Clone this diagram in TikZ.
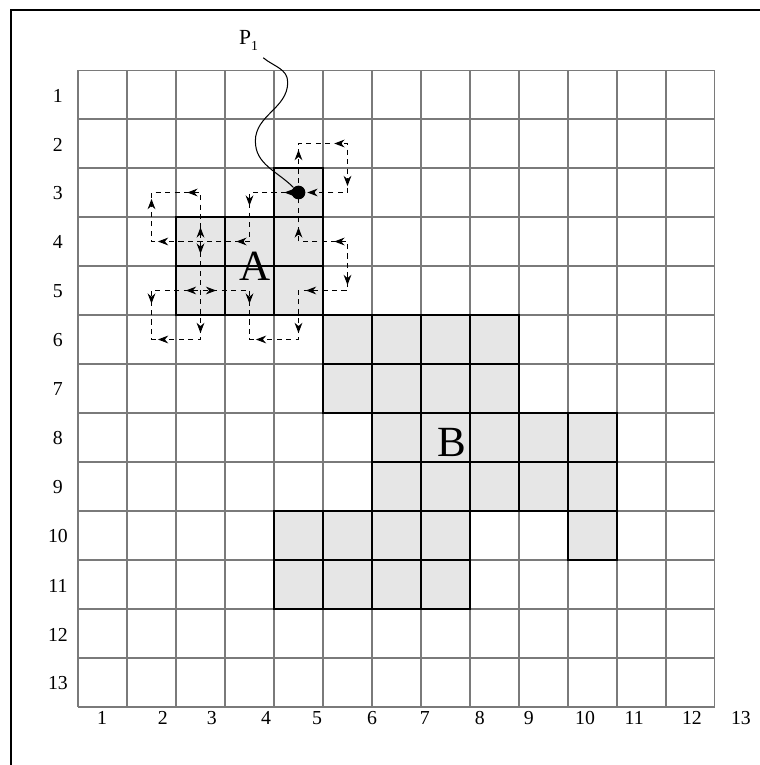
\documentclass[tikz,border=0pt]{standalone}
\usepackage{fontspec}
\setmainfont{Liberation Serif}
\usepackage{xcolor}
\usepackage{tikz}
\usetikzlibrary{arrows.meta}
\definecolor{cellgray}{HTML}{E6E6E6}
\definecolor{linegray}{HTML}{7A7A7A}

\begin{document}
\begin{tikzpicture}[
  gridline/.style={draw=linegray,line width=0.6pt},
  regionline/.style={draw=black,line width=1.5pt,line join=miter},
  trace/.style={line width=0.6pt,dash pattern=on 3pt off 2.5pt},
  tipmark/.style={-{Stealth[length=6pt,width=4.5pt]},line width=0.6pt},
  lbl/.style={font=\fontsize{11.5}{13}\selectfont,inner sep=0pt}]
\useasboundingbox (-1.592,-1.184) rectangle (13.918,14.429);
% frame
\draw[line width=1.2pt] (13.918,14.224) -- (-1.367,14.224) -- (-1.367,-1.184);
% regions
\def\regionA{(2,8) -- (5,8) -- (5,11) -- (4,11) -- (4,10) -- (2,10) -- cycle}
\def\regionB{(5,8) -- (9,8) -- (9,6) -- (11,6) -- (11,3) -- (10,3) -- (10,4) -- (8,4) -- (8,2) -- (4,2) -- (4,4) -- (6,4) -- (6,6) -- (5,6) -- cycle}
\fill[cellgray] \regionA;
\fill[cellgray] \regionB;
\draw[gridline] (0,0) grid (13,13);
\begin{scope}
  \clip \regionA \regionB;
  \draw[line width=0.9pt] (0,0) grid (13,13);
\end{scope}
\draw[regionline] \regionA;
\draw[regionline] \regionB;
% labels
\foreach \r in {1,...,13}
  \node[lbl] (row\r) at (-0.41,13.48-\r) {\r};
\foreach \c/\x in {1/0.49,2/1.73,3/2.73,4/3.84,5/4.88,6/6.0,7/7.08,8/8.2,9/9.2,10/10.35,11/11.35,12/12.53,13/13.53}
  \node[lbl] (col\c) at (\x,-0.22) {\c};
\node[font=\fontsize{25}{28}\selectfont,inner sep=0pt] (regA) at (3.61,9.0) {A};
\node[font=\fontsize{25}{28}\selectfont,inner sep=0pt] (regB) at (7.63,5.39) {B};
% tour round A
\draw[trace] (4.5,10.5) -- (4.5,11.5) -- (5.5,11.5) -- (5.5,10.5) -- (3.5,10.5) -- (3.5,9.5)
  -- (1.5,9.5) -- (1.5,10.5) -- (2.5,10.5) -- (2.5,7.5) -- (1.5,7.5) -- (1.5,8.5) -- (3.5,8.5)
  -- (3.5,7.5) -- (4.5,7.5) -- (4.5,8.5) -- (5.5,8.5) -- (5.5,9.5) -- (4.5,9.5) -- cycle;
\foreach \x/\y/\a in {4.5/11.3/90,5.3/11.5/180,5.5/10.7/270,4.75/10.5/180,4.28/10.5/180,
    3.5/10.3/270,3.3/9.5/180,1.5/10.3/90,2.3/10.5/180,1.7/9.5/180,2.5/9.72/90,2.5/9.32/270,
    4.5/9.72/90,5.3/9.5/180,5.5/8.68/270,4.72/8.5/180,2.27/8.5/180,2.75/8.5/0,3.5/8.3/270,
    1.5/8.3/270,1.7/7.5/180,2.5/7.7/270,3.7/7.5/180,4.5/7.7/270}
  \draw[tipmark] (\x,\y) ++(\a+180:0.07) -- ++(\a:0.14);
% start pixel
\node[circle,fill=black,inner sep=0pt,minimum size=0.28cm] (seed) at (4.5,10.5) {};
\node[font=\fontsize{12.5}{14}\selectfont,inner sep=1pt] (p1) at (3.48,13.6) {P\raisebox{-0.6ex}{\fontsize{8}{9}\selectfont 1}};
\coordinate (lead) at (3.78,13.25);
\draw[line width=0.6pt] (lead) to[out=-40,in=90] (4.28,12.75) to[out=-90,in=90] (3.62,11.55)
  to[out=-90,in=135] (seed);
\end{tikzpicture}
\end{document}
